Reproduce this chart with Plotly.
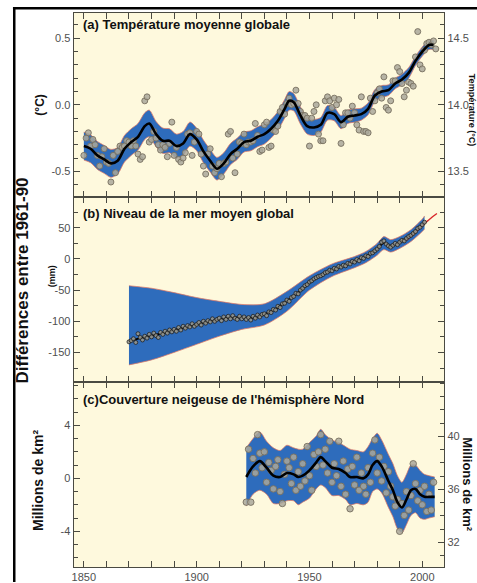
import plotly.graph_objects as go

# ---------------------------------------------------------------- data
# (a) Global mean temperature, annual anomalies vs 1961-90 (°C)
TEMP_START = 1850
TEMP_ANNUAL = [
    -0.38, -0.25, -0.21, -0.31, -0.26, -0.30, -0.38, -0.46, -0.39, -0.33,
    -0.43, -0.44, -0.58, -0.38, -0.51, -0.35, -0.31, -0.32, -0.31, -0.27,
    -0.28, -0.31, -0.27, -0.31, -0.37, -0.41, -0.39, 0.03, 0.06, -0.28,
    -0.26, -0.20, -0.25, -0.30, -0.34, -0.30, -0.32, -0.39, -0.29, -0.13,
    -0.38, -0.32, -0.41, -0.43, -0.40, -0.36, -0.22, -0.21, -0.38, -0.28,
    -0.20, -0.22, -0.37, -0.46, -0.52, -0.37, -0.33, -0.46, -0.51, -0.48,
    -0.44, -0.54, -0.44, -0.43, -0.22, -0.20, -0.40, -0.51, -0.37, -0.28,
    -0.29, -0.22, -0.30, -0.28, -0.28, -0.27, -0.14, -0.23, -0.35, -0.34,
    -0.15, -0.13, -0.32, -0.31, -0.19, -0.20, -0.16, -0.05, -0.02, -0.07,
    0.01, 0.05, 0.00, 0.01, 0.11, 0.01, -0.05, -0.08, -0.08, -0.10,
    -0.31, -0.10, -0.05, 0.00, -0.22, -0.27, -0.27, 0.03, 0.06, 0.03,
    -0.02, 0.05, 0.00, 0.04, -0.29, -0.15, -0.06, -0.06, -0.10, -0.01,
    -0.06, -0.15, -0.19, 0.06, -0.20, -0.20, -0.21, 0.05, -0.05, 0.03,
    0.09, 0.12, 0.05, 0.21, -0.02, -0.04, 0.03, 0.18, 0.18, 0.28,
    0.25, 0.16, 0.06, 0.11, 0.17, 0.16, 0.14, 0.36, 0.55, 0.30,
    0.27, 0.41, 0.46, 0.47, 0.45, 0.48, 0.42,
]
TEMP_KEY_YEARS = [1850, 1853, 1856, 1859, 1862, 1865, 1868, 1871, 1874, 1877,
                  1879, 1882, 1885, 1888, 1891, 1894, 1897, 1900, 1903, 1906,
                  1909, 1912, 1915, 1918, 1921, 1924, 1927, 1930, 1933, 1936,
                  1939, 1941, 1943, 1946, 1949, 1952, 1955, 1958, 1961, 1964,
                  1967, 1970, 1973, 1976, 1979, 1982, 1985, 1988, 1991, 1994,
                  1997, 2000, 2003, 2005]
TEMP_SMOOTH = [-0.31, -0.33, -0.38, -0.41, -0.44, -0.42, -0.33, -0.28, -0.24, -0.16,
               -0.14, -0.22, -0.27, -0.27, -0.31, -0.29, -0.22, -0.26, -0.35, -0.42,
               -0.48, -0.44, -0.37, -0.33, -0.28, -0.27, -0.24, -0.22, -0.18, -0.12,
               -0.03, 0.03, 0.02, -0.08, -0.16, -0.17, -0.15, -0.06, -0.07, -0.13,
               -0.09, -0.08, -0.07, -0.03, 0.07, 0.10, 0.11, 0.16, 0.19, 0.24,
               0.33, 0.40, 0.45, 0.45]
TEMP_HALF_WIDTH = [0.105, 0.105, 0.105, 0.105, 0.105, 0.10, 0.10, 0.10, 0.10, 0.10,
                   0.10, 0.095, 0.095, 0.09, 0.09, 0.09, 0.09, 0.085, 0.085, 0.085,
                   0.085, 0.08, 0.08, 0.08, 0.075, 0.075, 0.075, 0.075, 0.07, 0.07,
                   0.07, 0.07, 0.065, 0.065, 0.06, 0.06, 0.055, 0.055, 0.05, 0.05,
                   0.05, 0.05, 0.045, 0.045, 0.045, 0.045, 0.04, 0.04, 0.04, 0.04,
                   0.035, 0.035, 0.035, 0.035]
TEMP_BASELINE = 14.0  # 1961-90 mean, right-hand scale

# (b) Global mean sea level, tide-gauge annual values vs 1961-90 (mm)
SEA_START = 1870
SEA_ANNUAL = [
    -133, -131, -128, -134, -120, -126, -130, -124, -127, -121,
    -125, -119, -123, -126, -118, -121, -116, -119, -114, -117,
    -113, -116, -110, -114, -108, -111, -107, -109, -104, -108,
    -105, -102, -106, -100, -103, -99, -101, -96, -100, -97,
    -95, -99, -93, -97, -92, -96, -91, -95, -97, -92,
    -96, -93, -97, -94, -98, -92, -95, -90, -93, -89,
    -88, -91, -85, -86, -81, -82, -76, -78, -72, -71,
    -66, -68, -62, -60, -55, -56, -50, -47, -43, -41,
    -37, -35, -32, -30, -28, -27, -25, -22, -21, -18,
    -19, -15, -16, -12, -13, -10, -11, -7, -8, -4,
    -5, -1, -3, 2, 1, 5, 4, 9, 10, 13,
    16, 20, 27, 29, 24, 21, 19, 22, 25, 23,
    27, 30, 29, 33, 36, 38, 41, 44, 49, 51,
    55, 59,
]
SEA_KEY_YEARS = [1870, 1875, 1880, 1885, 1890, 1895, 1900, 1905, 1910, 1915,
                 1920, 1925, 1930, 1935, 1940, 1945, 1950, 1955, 1960, 1965,
                 1970, 1975, 1980, 1983, 1986, 1990, 1995, 2000, 2001]
SEA_SMOOTH = [-132, -127, -123, -119, -114, -110, -105, -101, -97, -94,
              -94, -94, -89, -80, -67, -54, -38, -27, -18, -11,
              -4, 4, 16, 26, 21, 27, 38, 54, 58]
SEA_BAND_YEARS = [1870, 1880, 1890, 1900, 1910, 1920, 1930, 1940, 1950, 1960,
                  1970, 1975, 1980, 1983, 1986, 1990, 1995, 2000, 2001]
SEA_BAND_UPPER = [-43, -47, -54, -62, -68, -73, -72, -52, -27, -8,
                  4, 12, 25, 36, 31, 36, 47, 64, 69]
SEA_BAND_LOWER = [-170, -162, -150, -137, -124, -113, -106, -84, -50, -28,
                  -14, -6, 6, 15, 11, 17, 28, 44, 48]
# satellite altimetry
SAT_YEARS = [1993, 1995, 1997, 1999, 2001, 2003, 2005, 2006.5]
SAT_LEVEL = [30, 36, 43, 50, 57, 63, 69, 73]

# (c) Northern Hemisphere snow cover, anomalies (million km²)
SNOW_START = 1922
SNOW_ANNUAL = [
    -1.8, 2.2, -1.8, 1.5, 0.4, 3.3, 1.9, 0.8, 2.0, -0.3,
    1.2, 0.6, -0.8, 0.9, 1.4, -1.0, -1.9, 0.3, 1.3, 0.8,
    -0.4, 1.6, -0.9, 0.5, -0.6, 1.1, -0.2, 2.4, 0.2, -0.9,
    1.8, 0.9, 2.0, 3.3, 1.0, 2.2, 0.4, 2.8, -0.3, 1.1,
    0.2, 2.8, -0.6, 1.3, -1.2, 0.7, -2.3, 0.9, -0.5, 1.6,
    -0.9, 0.4, -0.6, -1.2, 0.8, -0.3, 1.9, 2.9, 0.4, 1.6,
    -0.2, 0.9, -1.1, 0.5, -0.6, -1.4, -2.1, -1.6, -4.0, -1.9,
    -2.8, -1.0, -2.4, -1.3, 1.1, -0.4, -1.7, -0.9, -2.0, -0.6,
    -2.5, -1.2, -2.4, -0.3,
]
SNOW_KEY_YEARS = [1922, 1925, 1928, 1931, 1934, 1937, 1940, 1943, 1945, 1947,
                  1950, 1953, 1955, 1957, 1960, 1963, 1966, 1968, 1971, 1974,
                  1976, 1978, 1980, 1982, 1985, 1987, 1989, 1991, 1993, 1995,
                  1997, 1999, 2001, 2003, 2005.5]
SNOW_SMOOTH = [0.1, 0.9, 1.3, 0.8, 0.2, 0.1, 0.4, 0.3, 0.1, 0.2,
               0.6, 1.2, 1.6, 1.3, 0.8, 0.7, 0.4, 0.1, 0.1, 0.0,
               0.3, 1.0, 1.3, 0.9, -0.2, -0.9, -1.8, -2.2, -1.6, -0.9,
               -0.8, -1.2, -1.4, -1.4, -1.4]
SNOW_HALF_WIDTH = [2.2, 2.1, 2.2, 2.0, 2.1, 2.0, 2.1, 2.0, 2.1, 2.0,
                   2.1, 2.0, 2.1, 2.0, 2.1, 2.0, 2.0, 2.1, 2.0, 2.0,
                   2.1, 2.0, 2.1, 2.0, 2.0, 2.0, 2.0, 1.9, 1.9, 1.9,
                   1.8, 1.8, 1.7, 1.6, 1.5]
SNOW_BASELINE = 36.83  # 1961-90 mean, right-hand scale

# tick labels
X_TICKS = [1850, 1900, 1950, 2000]
X_LABELS = ["1850", "1900", "1950", "2000"]
TEMP_TICKS = [-0.5, 0.0, 0.5]
TEMP_LABELS = ["-0.5", "0.0", "0.5"]
TEMP_ABS_TICKS = [13.5, 14.0, 14.5]
TEMP_ABS_LABELS = ["13.5", "14.0", "14.5"]
SEA_TICKS = [-150, -100, -50, 0, 50]
SEA_LABELS = ["-150", "-100", "-50", "0", "50"]
SNOW_TICKS = [-4, 0, 4]
SNOW_LABELS = ["-4", "0", "4"]
SNOW_ABS_TICKS = [32, 36, 40]
SNOW_ABS_LABELS = ["32", "36", "40"]

# ---------------------------------------------------------------- style
W, H = 477, 583
BG = "#fef9dd"
BLUE = "rgb(46,108,188)"
EDGE = "rgba(225,120,100,0.75)"
AXIS = "#4a4a42"
TICKFONT = dict(family="Liberation Sans, Arial, sans-serif", size=11, color="#505050")
FONT = "Liberation Sans, Arial, sans-serif"


def fx(p):
    return p / W


def fy(p):
    return 1 - p / H


X_DOM = [fx(72), fx(444)]
DOM_A = [fy(197), fy(13)]
DOM_B = [fy(383), fy(197)]
DOM_C = [fy(568), fy(383)]
X_RANGE = [1845.5, 2009.7]
RANGE_A = [-0.69, 0.69]
RANGE_B = [-198, 100]
RANGE_C = [-6.7, 7.25]

fig = go.Figure()


def band(xs, upper, lower, xa, ya):
    fig.add_trace(go.Scatter(x=xs, y=upper, xaxis=xa, yaxis=ya, mode="lines",
                             line=dict(color=EDGE, width=1, shape="spline", smoothing=0.8),
                             hoverinfo="skip", showlegend=False))
    fig.add_trace(go.Scatter(x=xs, y=lower, xaxis=xa, yaxis=ya, mode="lines",
                             line=dict(color=EDGE, width=1, shape="spline", smoothing=0.8),
                             fill="tonexty", fillcolor=BLUE,
                             hoverinfo="skip", showlegend=False))


def dots(xs, ys, xa, ya, size, fill, edge, edge_w=1):
    fig.add_trace(go.Scatter(x=xs, y=ys, xaxis=xa, yaxis=ya, mode="markers",
                             marker=dict(size=size, color=fill,
                                         line=dict(color=edge, width=edge_w)),
                             showlegend=False))


def smooth(xs, ys, xa, ya, color="black", width=2.6):
    fig.add_trace(go.Scatter(x=xs, y=ys, xaxis=xa, yaxis=ya, mode="lines",
                             line=dict(color=color, width=width, shape="spline", smoothing=0.9),
                             showlegend=False))


# (a) temperature
band(TEMP_KEY_YEARS,
     [s + h for s, h in zip(TEMP_SMOOTH, TEMP_HALF_WIDTH)],
     [s - h for s, h in zip(TEMP_SMOOTH, TEMP_HALF_WIDTH)], "x", "y")
dots(list(range(TEMP_START, TEMP_START + len(TEMP_ANNUAL))), TEMP_ANNUAL, "x", "y",
     6, "rgba(170,168,155,0.85)", "rgba(120,112,95,0.9)")
smooth(TEMP_KEY_YEARS, TEMP_SMOOTH, "x", "y")

# (b) sea level
band(SEA_BAND_YEARS, SEA_BAND_UPPER, SEA_BAND_LOWER, "x2", "y2")
smooth(SEA_KEY_YEARS, SEA_SMOOTH, "x2", "y2", width=2)
smooth(SAT_YEARS, SAT_LEVEL, "x2", "y2", color="#d8262a", width=1.4)
dots(list(range(SEA_START, SEA_START + len(SEA_ANNUAL))), SEA_ANNUAL, "x2", "y2",
     4, "rgba(150,150,140,0.9)", "rgba(25,25,25,0.9)", 0.8)

# (c) snow cover
band(SNOW_KEY_YEARS,
     [s + h for s, h in zip(SNOW_SMOOTH, SNOW_HALF_WIDTH)],
     [s - h for s, h in zip(SNOW_SMOOTH, SNOW_HALF_WIDTH)], "x3", "y3")
dots(list(range(SNOW_START, SNOW_START + len(SNOW_ANNUAL))), SNOW_ANNUAL, "x3", "y3",
     6.5, "rgba(170,168,155,0.85)", "rgba(120,112,95,0.9)")
smooth(SNOW_KEY_YEARS, SNOW_SMOOTH, "x3", "y3")

# empty traces so the right-hand scales are drawn
for xa, ya in (("x", "y4"), ("x2", "y5"), ("x3", "y6")):
    fig.add_trace(go.Scatter(x=[None], y=[None], xaxis=xa, yaxis=ya,
                             showlegend=False, hoverinfo="skip"))

common = dict(showgrid=False, zeroline=False, showline=True, linecolor=AXIS,
              linewidth=1.2, ticks="inside", ticklen=6, tickwidth=1.2,
              tickcolor=AXIS, tickfont=TICKFONT)


def xaxis(anchor, labels_on):
    return dict(common, domain=X_DOM, anchor=anchor, range=X_RANGE,
                mirror="allticks", tickmode="array", tickvals=X_TICKS,
                ticktext=X_LABELS, showticklabels=labels_on,
                minor=dict(dtick=10, tick0=1850, ticks="inside", ticklen=4,
                           tickcolor=AXIS, tickwidth=1))


def yaxis(domain, rng, vals, labels, minor_dt, minor_t0, side="left",
          overlay=None, anchor="x", show=True):
    d = dict(common, domain=domain, range=rng, anchor=anchor, side=side,
             tickmode="array", tickvals=vals, ticktext=labels,
             showticklabels=show,
             minor=dict(dtick=minor_dt, tick0=minor_t0, ticks="inside",
                        ticklen=4, tickcolor=AXIS, tickwidth=1))
    if overlay:
        d["overlaying"] = overlay
    return d


fig.update_layout(
    width=W, height=H,
    margin=dict(l=0, r=0, t=0, b=0),
    paper_bgcolor="white", plot_bgcolor=BG,
    xaxis=xaxis("y", False),
    xaxis2=xaxis("y2", False),
    xaxis3=xaxis("y3", True),
    yaxis=yaxis(DOM_A, RANGE_A, TEMP_TICKS, TEMP_LABELS, 0.1, 0),
    yaxis2=yaxis(DOM_B, RANGE_B, SEA_TICKS, SEA_LABELS, 25, 0, anchor="x2"),
    yaxis3=yaxis(DOM_C, RANGE_C, SNOW_TICKS, SNOW_LABELS, 1, 0, anchor="x3"),
    yaxis4=yaxis(DOM_A, [RANGE_A[0] + TEMP_BASELINE, RANGE_A[1] + TEMP_BASELINE],
                 TEMP_ABS_TICKS, TEMP_ABS_LABELS, 0.1, 0, side="right", overlay="y"),
    yaxis5=yaxis(DOM_B, RANGE_B, SEA_TICKS, SEA_LABELS, 25, 0, side="right",
                 overlay="y2", anchor="x2", show=False),
    yaxis6=yaxis(DOM_C, [RANGE_C[0] + SNOW_BASELINE, RANGE_C[1] + SNOW_BASELINE],
                 SNOW_ABS_TICKS, SNOW_ABS_LABELS, 1, 0, side="right", overlay="y3",
                 anchor="x3"),
)


def note(text, x, y, size=13, angle=0, xanchor="center", weight="bold"):
    fig.add_annotation(text=text, x=fx(x), y=fy(y), xref="paper", yref="paper",
                       showarrow=False, textangle=angle, xanchor=xanchor,
                       yanchor="middle",
                       font=dict(family=FONT, size=size, color="#111111", weight=weight))


note("(a) Température moyenne globale", 79, 25, xanchor="left")
note("(b) Niveau de la mer moyen global", 79, 214, xanchor="left")
note("(c)Couverture neigeuse de l'hémisphère Nord", 79, 400, xanchor="left")
note("Différences entre 1961-90", 21, 281, size=17, angle=-90)
note("(°C)", 38, 105, size=12, angle=-90)
note("(mm)", 50, 277, size=9, angle=-90)
note("Millions de km²", 36, 481, size=14, angle=-90)
note("Millions de km²", 468, 485, size=13, angle=90)
note("Température (°C)", 472, 110, size=9, angle=90)

# outer frame
fig.add_shape(type="line", xref="paper", yref="paper", x0=fx(12.3), x1=fx(12.3),
              y0=0, y1=fy(7.5), line=dict(color="black", width=2.5))
fig.add_shape(type="line", xref="paper", yref="paper", x0=fx(11), x1=1,
              y0=fy(8.3), y1=fy(8.3), line=dict(color="black", width=2.5))

fig.write_html("out.html")
